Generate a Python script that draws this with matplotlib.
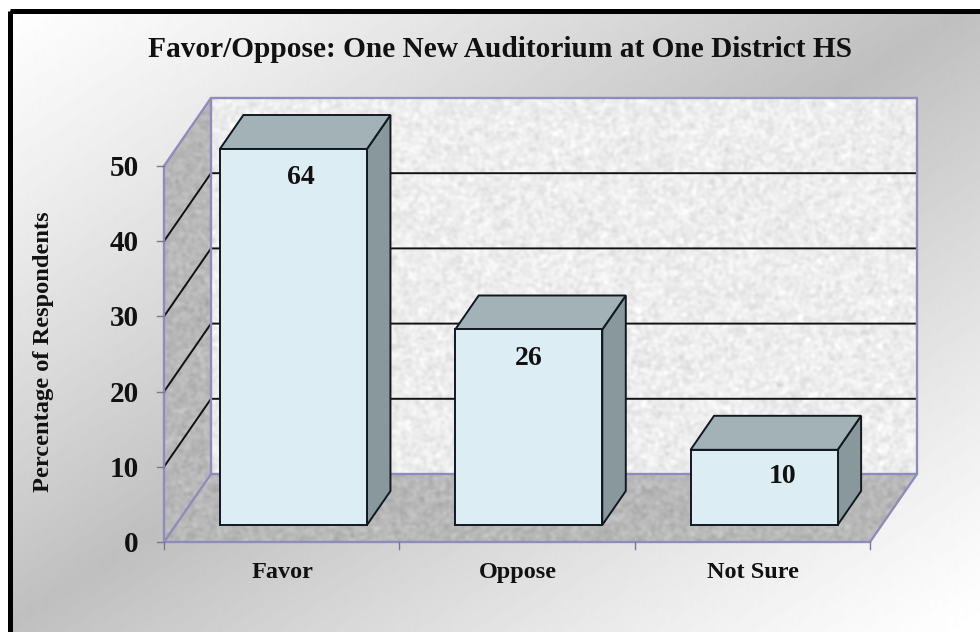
import numpy as np
import matplotlib
matplotlib.use('Agg')
import matplotlib.pyplot as plt
from matplotlib.patches import Polygon, Rectangle

categories = ['Favor', 'Oppose', 'Not Sure']
bar_heights = [50, 26, 10]        # drawn height, first bar is cut off at the axis top
bar_labels = ['64', '26', '10']   # what the chart prints on the bars
y_ticks = [0, 10, 20, 30, 40, 50]
title = 'Favor/Oppose: One New Auditorium at One District HS'
ylabel = 'Percentage of Respondents'

W, H = 980, 632
# plot box in pixels
X0, Y0 = 164, 542
PLOT_W, PLOT_H = 706, 376
DX, DY = 47, 68
YMAX = 50
label_dx = [7, 0, 18]
label_dy = [35, 36, 33]


def proj(cat, val, depth=0.0):
    # cat in category units, val in percent, depth 0 front .. 1 back
    return (X0 + cat / len(categories) * PLOT_W + depth * DX,
            Y0 - val / YMAX * PLOT_H - depth * DY)


def blur(a, n):
    for _ in range(n):
        a = (a + np.roll(a, 1, 0) + np.roll(a, -1, 0) + np.roll(a, 1, 1) + np.roll(a, -1, 1)) / 5
    return a


plt.rcParams['font.family'] = ['Liberation Serif', 'DejaVu Serif']
fig = plt.figure(figsize=(W / 100, H / 100), dpi=100)
ax = fig.add_axes([0, 0, 1, 1])
ax.set_xlim(0, W)
ax.set_ylim(H, 0)
ax.axis('off')

# background gradient, white corners and grey along the other diagonal
xx, yy = np.meshgrid(np.linspace(0, 1, W), np.linspace(0, 1, H))
t = (xx + yy) / 2
bg = 1.0 - 0.25 * (1 - np.abs(2 * t - 1)) ** 1.2
ax.imshow(bg, cmap='gray', vmin=0, vmax=1, extent=(0, W, H, 0), aspect='auto', zorder=0)

# frame, white margin outside it
ax.add_patch(Rectangle((0, 0), W, 10.5, fc='white', ec='none', zorder=1))
ax.add_patch(Rectangle((0, 0), 9.5, H, fc='white', ec='none', zorder=1))
ax.add_patch(Rectangle((9.5, 10.5), W + 40, H + 40, fill=False, ec='black', lw=3.6, zorder=1))

# textures for the walls
rng = np.random.default_rng(3)
speck = blur(rng.normal(size=(H, W)), 6)
speck = speck / speck.std()
back_img = np.clip(0.93 + 0.02 * speck, 0, 1)
grey_img = np.clip(0.72 + 0.02 * speck, 0, 1)

bl = proj(0, 0, 1)
br = proj(3, 0, 1)
tl = proj(0, YMAX, 1)
tr = proj(3, YMAX, 1)
fl = proj(0, 0, 0)
fr = proj(3, 0, 0)
ftl = proj(0, YMAX, 0)

back = Polygon([bl, br, tr, tl], closed=True, fc='none', ec='none')
floor = Polygon([fl, fr, br, bl], closed=True, fc='none', ec='none')
wall = Polygon([fl, bl, tl, ftl], closed=True, fc='none', ec='none')
for poly, img in [(back, back_img), (floor, grey_img), (wall, grey_img)]:
    ax.add_patch(poly)
    im = ax.imshow(img, cmap='gray', vmin=0, vmax=1, extent=(0, W, H, 0), aspect='auto', zorder=2)
    im.set_clip_path(poly)

# gridlines on the back wall and side wall
for v in y_ticks[1:-1]:
    ax.plot(*zip(proj(0, v, 0), proj(0, v, 1), proj(3, v, 1)), color='#111111', lw=1.4, zorder=3,
            solid_joinstyle='miter')

# box outlines
axis_c = '#8f8cbc'
for a, b in [(fl, fr), (fl, ftl), (fl, bl), (fr, br), (bl, br), (bl, tl), (tl, tr), (br, tr), (ftl, tl)]:
    ax.plot(*zip(a, b), color=axis_c, lw=1.7, zorder=4, solid_capstyle='round')

# ticks
for v in y_ticks:
    x, y = proj(0, v)
    ax.plot([x - 7, x], [y, y], color='#77778f', lw=1, zorder=4)
    ax.text(138.5, y + 10, str(v), ha='right', va='baseline', fontsize=21, fontweight='bold', color='#111111')
for i in range(len(categories) + 1):
    x, y = proj(i, 0)
    ax.plot([x, x], [y, y + 7], color='#77778f', lw=1, zorder=4)

# bars
for i, (h, lab) in enumerate(zip(bar_heights, bar_labels)):
    a = i + 0.5 - 0.3125
    b = i + 0.5 + 0.3125
    d0, d1 = 0.25, 0.75
    front = [proj(a, 0, d0), proj(b, 0, d0), proj(b, h, d0), proj(a, h, d0)]
    top = [proj(a, h, d0), proj(b, h, d0), proj(b, h, d1), proj(a, h, d1)]
    side = [proj(b, 0, d0), proj(b, 0, d1), proj(b, h, d1), proj(b, h, d0)]
    z = 5 + i
    ax.add_patch(Polygon(side, closed=True, fc='#88989c', ec='#101820', lw=1.4, zorder=z))
    ax.add_patch(Polygon(top, closed=True, fc='#a3b2b6', ec='#101820', lw=1.4, zorder=z))
    ax.add_patch(Polygon(front, closed=True, fc='#dcedf4', ec='#101820', lw=1.4, zorder=z))
    cx = (front[0][0] + front[1][0]) / 2
    ax.text(cx + label_dx[i], front[2][1] + label_dy[i], lab, ha='center', va='baseline',
            fontsize=20, fontweight='bold', color='#111111', zorder=10)
    x, y = proj(i + 0.5, 0)
    ax.text(x + 1, 578, categories[i], ha='center', va='baseline', fontsize=17.5, fontweight='bold',
            color='#111111', zorder=10)

ax.text(499.5, 57, title, ha='center', va='baseline', fontsize=21.2, fontweight='bold', color='#111111')
ax.text(49, 352, ylabel, ha='center', va='baseline', rotation=90, rotation_mode='anchor',
        fontsize=17.6, fontweight='bold', color='#111111')

fig.savefig('out.png', dpi=100)
